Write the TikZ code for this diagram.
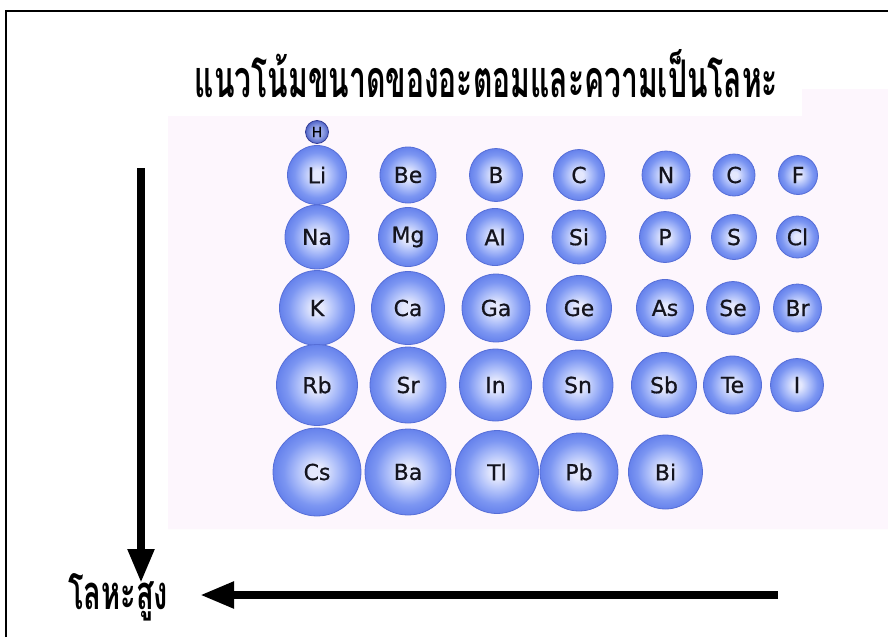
\documentclass[tikz,border=0pt]{standalone}
\usepackage{graphicx}
\usepackage{fontspec}
\newfontfamily\thaifont[Script=Thai]{Loma}
\newfontfamily\atomfont[FakeBold=0.6]{DejaVu Sans}
\usetikzlibrary{arrows.meta}
\definecolor{pinkbg}{RGB}{253,246,253}
\definecolor{ac0}{RGB}{228,232,253}
\definecolor{ac1}{RGB}{178,194,250}
\definecolor{ac2}{RGB}{124,150,242}
\definecolor{ac3}{RGB}{102,130,236}
\definecolor{arim}{RGB}{86,110,215}
\definecolor{atext}{RGB}{20,20,30}
\definecolor{hc0}{RGB}{150,165,230}
\definecolor{hc1}{RGB}{80,100,200}
\definecolor{hrim}{RGB}{50,60,150}
\pgfdeclareradialshading{atomshade}{\pgfpoint{0bp}{0bp}}{color(0bp)=(ac0); color(4bp)=(ac0); color(11bp)=(ac1); color(19bp)=(ac2); color(25bp)=(ac3); color(50bp)=(ac3)}
\pgfdeclareradialshading{hshade}{\pgfpoint{0bp}{0bp}}{color(0bp)=(hc0); color(12bp)=(hc0); color(25bp)=(hc1); color(50bp)=(hc1)}
\begin{document}
\begin{tikzpicture}[x=1pt,y=-1pt,
  atom/.style={circle, shading=atomshade, draw=arim, line width=0.8pt, inner sep=0pt,
    text=atext, font=\atomfont\fontsize{22}{22}\selectfont},
  bigarrow/.style={line width=8pt, -{Triangle[length=34pt,width=25pt]}},
  thaitext/.style={inner sep=0pt, font=\thaifont\bfseries}]
\useasboundingbox (0,0) rectangle (888,637);
\fill[white] (0,0) rectangle (888,637);
% pink background
\fill[pinkbg] (168,116) -- (802,116) -- (802,89) -- (888,89) -- (888,529) -- (168,529) -- cycle;
% frame
\draw[line width=2.5pt] (6,637) -- (6,11) -- (888,11);
% title
\node[thaitext, anchor=base] (title) at (486.5,97)
  {\resizebox{583pt}{48pt}{แนวโน้มขนาดของอะตอมและความเป็นโลหะ}};
% hydrogen
\node[circle, shading=hshade, draw=hrim, line width=0.8pt, inner sep=0pt, minimum size=23pt,
  text=black, font=\atomfont\fontsize{14}{14}\selectfont] (H) at (317,132) {H};
% atoms
\foreach \n/\lab/\x/\y/\d in {
  Li/Li/317/175/59, Be/Be/408/175/56, B/B/496/175/53, C/C/579/175/51, N/N/666/175/48, Ctwo/C/734/175/42, F/F/798/175/39,
  Na/Na/317/237/64, Mg/Mg/408/237/59, Al/Al/495/237/57, Si/Si/579/237/54, P/P/665/237/51, S/S/734/237/45, Cl/Cl/797.5/237/42,
  K/K/317/308/75, Ca/Ca/408/308/73, Ga/Ga/496/308/68, Ge/Ge/579/308/65, As/As/665/308/57, Se/Se/733/308/53, Br/Br/797.5/308/48,
  Rb/Rb/317/385/81, Sr/Sr/408/385/76, In/In/495.5/385/72, Sn/Sn/578/385/70, Sb/Sb/664/385/65, Te/Te/732.5/385/58, I/I/797/385/53,
  Cs/Cs/317/472/88, Ba/Ba/408/472/86, Tl/Tl/497/472/83, Pb/Pb/579/472/78, Bi/Bi/665.5/472/74}
  {\node[atom, minimum size=\d pt] (\n) at (\x,\y) {\lab};}
% arrows
\coordinate (vs) at (141,168);
\coordinate (ve) at (141,583);
\draw[bigarrow] (vs) -- (ve);
\node[thaitext, anchor=base west] (lab) at (68,609) {\resizebox{100pt}{36pt}{โลหะสูง}};
\coordinate (hs) at (778,595);
\coordinate (ht) at (200,595);
\draw[bigarrow] (hs) -- (ht);
\end{tikzpicture}
\end{document}
